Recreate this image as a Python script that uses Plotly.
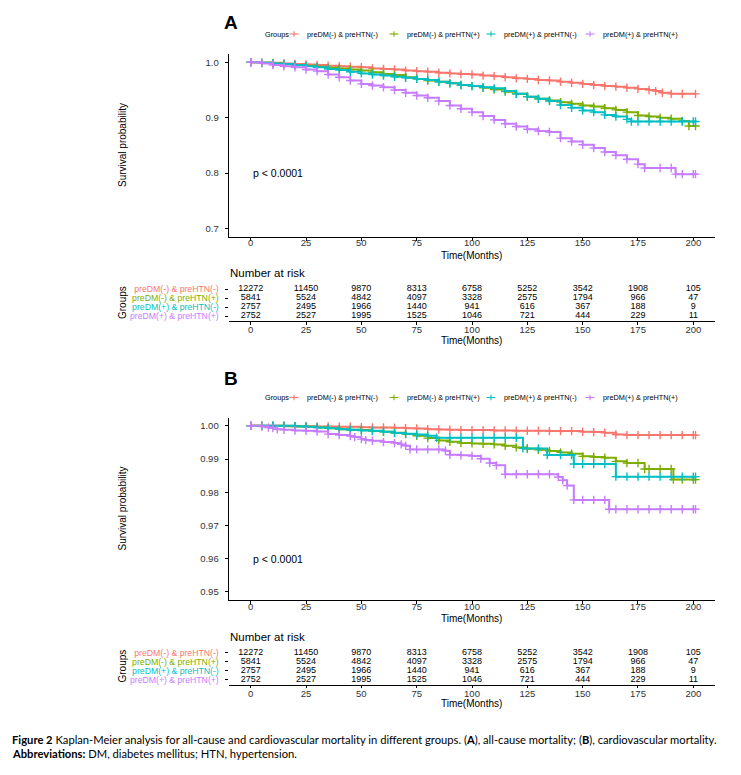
import plotly.graph_objects as go

groups = ["preDM(-) & preHTN(-)", "preDM(-) & preHTN(+)", "preDM(+) & preHTN(-)", "preDM(+) & preHTN(+)"]
colors = ["#F8766D", "#7CAE00", "#00BFC4", "#C77CFF"]

# ---------- Panel A : all-cause mortality ----------
a_t_g1 = [0,5,10,15,20,25,30,35,40,45,50,55,60,65,70,75,80,85,90,95,100,105,110,115,120,125,130,135,140,145,150,155,160,165,170,175,180,183,186,190,195,201]
a_s_g1 = [1.000,0.9995,0.999,0.998,0.997,0.996,0.995,0.994,0.993,0.992,0.991,0.989,0.988,0.987,0.985,0.984,0.983,0.981,0.980,0.979,0.978,0.976,0.975,0.973,0.971,0.970,0.968,0.967,0.965,0.963,0.961,0.959,0.957,0.956,0.954,0.952,0.950,0.948,0.945,0.943,0.943,0.943]

a_t_g2 = [0,5,10,15,20,25,30,35,40,45,50,55,60,65,70,75,80,85,90,95,100,105,110,115,120,125,130,135,140,145,150,155,160,165,170,175,180,185,190,195,198,201]
a_s_g2 = [1.0,0.999,0.998,0.997,0.995,0.994,0.992,0.990,0.989,0.987,0.985,0.982,0.979,0.977,0.973,0.970,0.967,0.965,0.962,0.959,0.957,0.954,0.951,0.947,0.943,0.938,0.934,0.931,0.928,0.925,0.922,0.920,0.917,0.914,0.910,0.904,0.902,0.900,0.898,0.894,0.885,0.885]

a_t_g3 = [0,5,10,15,20,25,30,35,40,45,50,55,60,65,70,75,80,85,90,95,100,105,110,115,120,125,130,135,140,145,150,155,160,165,170,172,175,180,185,190,195,200,201]
a_s_g3 = [1.0,0.999,0.998,0.997,0.995,0.993,0.991,0.988,0.986,0.983,0.980,0.978,0.976,0.974,0.972,0.970,0.968,0.965,0.962,0.959,0.957,0.955,0.953,0.948,0.943,0.938,0.934,0.930,0.923,0.918,0.913,0.910,0.905,0.902,0.897,0.893,0.893,0.893,0.893,0.893,0.893,0.893,0.893]

a_t_g4 = [0,5,10,15,20,25,30,35,40,45,50,55,60,65,70,75,80,85,90,95,100,105,110,115,120,125,130,135,140,145,150,155,160,165,170,175,178,185,190,192,195,200,201]
a_s_g4 = [1.0,0.998,0.995,0.993,0.991,0.987,0.984,0.978,0.973,0.967,0.961,0.958,0.955,0.950,0.945,0.940,0.936,0.930,0.922,0.916,0.910,0.903,0.896,0.889,0.884,0.879,0.876,0.874,0.863,0.857,0.851,0.845,0.838,0.832,0.825,0.816,0.809,0.809,0.809,0.798,0.798,0.798,0.798]

# ---------- Panel B : cardiovascular mortality ----------
b_t_g1 = [0,5,10,15,20,25,30,35,40,45,50,55,60,65,70,75,80,85,90,95,100,105,110,115,120,125,130,135,140,145,150,155,160,165,170,175,180,185,190,195,200,201]
b_s_g1 = [1.0,1.0,1.0,1.0,0.9999,0.9999,0.9998,0.9998,0.9997,0.9997,0.9996,0.9995,0.9995,0.9994,0.9993,0.9992,0.9990,0.9989,0.9988,0.9987,0.9987,0.9987,0.9986,0.9986,0.9985,0.9985,0.9985,0.9984,0.9984,0.9984,0.9982,0.9981,0.9979,0.9974,0.9972,0.9972,0.9972,0.9972,0.9972,0.9972,0.9972,0.9972]

b_t_g2 = [0,5,10,15,20,25,30,35,40,45,50,55,60,65,70,75,80,85,90,95,100,105,110,115,120,125,130,135,140,145,150,155,160,165,170,175,178,180,185,190,191,195,200,201]
b_s_g2 = [1.0,1.0,1.0,0.9999,0.9998,0.9997,0.9995,0.9993,0.9990,0.9988,0.9987,0.9984,0.9982,0.9979,0.9975,0.9970,0.9963,0.9956,0.9952,0.9948,0.9947,0.9946,0.9944,0.9940,0.9935,0.9931,0.9928,0.9924,0.9920,0.9916,0.9908,0.9906,0.9904,0.9893,0.9888,0.9888,0.9870,0.9870,0.9870,0.9870,0.9838,0.9838,0.9838,0.9838]

b_t_g3 = [0,5,10,15,20,25,30,35,40,45,50,55,60,65,70,75,80,84,90,95,100,105,110,115,120,123,125,130,134,140,145,146,150,155,160,165,170,175,180,185,190,195,200,201]
b_s_g3 = [1.0,1.0,1.0,1.0,0.9999,0.9997,0.9995,0.9993,0.9990,0.9988,0.9986,0.9985,0.9982,0.9978,0.9976,0.9974,0.9970,0.9964,0.9964,0.9964,0.9964,0.9964,0.9964,0.9964,0.9964,0.9932,0.9932,0.9932,0.9912,0.9912,0.9912,0.9885,0.9885,0.9885,0.9885,0.9847,0.9847,0.9847,0.9847,0.9847,0.9847,0.9847,0.9847,0.9847]

b_t_g4 = [0,5,8,10,12,15,20,25,30,35,40,45,47,50,52,55,60,65,68,70,72,75,80,85,88,90,95,100,104,108,111,115,120,125,130,135,139,141,143,146,150,155,160,162,165,170,175,180,185,190,195,200,201]
b_s_g4 = [1.0,0.9998,0.9995,0.9993,0.9990,0.9988,0.9986,0.9985,0.9983,0.9975,0.9972,0.9969,0.9966,0.9960,0.9957,0.9955,0.9951,0.9948,0.9944,0.9940,0.9929,0.9929,0.9929,0.9929,0.9925,0.9913,0.9911,0.9909,0.9901,0.9888,0.9881,0.9854,0.9854,0.9854,0.9854,0.9854,0.9846,0.9836,0.9820,0.9777,0.9777,0.9777,0.9777,0.9749,0.9749,0.9749,0.9749,0.9749,0.9749,0.9749,0.9749,0.9749,0.9749]

# ---------- Number at risk ----------
risk_times = [0, 25, 50, 75, 100, 125, 150, 175, 200]
risk_g1 = [12272, 11450, 9870, 8313, 6758, 5252, 3542, 1908, 105]
risk_g2 = [5841, 5524, 4842, 4097, 3328, 2575, 1794, 966, 47]
risk_g3 = [2757, 2495, 1966, 1440, 941, 616, 367, 188, 9]
risk_g4 = [2752, 2527, 1995, 1525, 1046, 721, 444, 229, 11]

a_ticks = [0.7, 0.8, 0.9, 1.0]
b_ticks = [0.95, 0.96, 0.97, 0.98, 0.99, 1.00]

# ---------------------------------------------------------------
PAGE_MARGIN = 8            # default body margin of the html page
W, H = 741 - PAGE_MARGIN, 775 - PAGE_MARGIN

def fx(px):
    return (px - PAGE_MARGIN) / W

def fy(py):
    return 1 - (py - PAGE_MARGIN) / H

XL, XR = 228.5, 715
XRANGE = [-10.03, 209.8]
OFF = 363.5  # vertical offset of panel B

fig = go.Figure()

curvesA = [(a_t_g1, a_s_g1), (a_t_g2, a_s_g2), (a_t_g3, a_s_g3), (a_t_g4, a_s_g4)]
curvesB = [(b_t_g1, b_s_g1), (b_t_g2, b_s_g2), (b_t_g3, b_s_g3), (b_t_g4, b_s_g4)]
risks = [risk_g1, risk_g2, risk_g3, risk_g4]

for curves, xa, ya in [(curvesA, "x", "y"), (curvesB, "x3", "y3")]:
    for i, (t, s) in enumerate(curves):
        fig.add_trace(go.Scatter(
            x=t, y=s, mode="lines+markers", xaxis=xa, yaxis=ya,
            line=dict(shape="hv", width=2, color=colors[i]),
            marker=dict(symbol="cross-thin", size=6, line=dict(width=1.4, color=colors[i])),
            name=groups[i], showlegend=False, hoverinfo="skip"))

for xa, ya in [("x2", "y2"), ("x4", "y4")]:
    for i, r in enumerate(risks):
        fig.add_trace(go.Scatter(
            x=risk_times, y=[3 - i] * len(risk_times), mode="text",
            text=[str(v) for v in r], textfont=dict(size=9, color="black"),
            xaxis=xa, yaxis=ya, showlegend=False, hoverinfo="skip"))

axis_common = dict(showgrid=False, zeroline=False, showline=True, linecolor="black",
                   linewidth=0.8, ticks="outside", ticklen=3, tickcolor="black",
                   tickfont=dict(size=9.5, color="#333333"))

risk_ticktext = ['<span style="color:%s">%s</span>' % (c, g) for c, g in zip(colors, groups)]

def main_axes(top, bottom, yr, yticks, fmt):
    xa = dict(axis_common, domain=[fx(XL), fx(XR)], range=XRANGE, tickvals=risk_times,
              ticklabelstandoff=-6)
    ya = dict(axis_common, domain=[fy(bottom), fy(top)], range=yr, tickvals=yticks,
              tickformat=fmt, ticklabelstandoff=4)
    return xa, ya

def risk_axes(top, bottom):
    xa = dict(axis_common, domain=[fx(XL), fx(XR)], range=XRANGE, tickvals=risk_times,
              ticklabelstandoff=-3)
    ya = dict(axis_common, domain=[fy(bottom), fy(top)], range=[-0.556, 3.556],
              tickvals=[3, 2, 1, 0], ticktext=risk_ticktext, showline=False,
              tickfont=dict(size=8.7), ticklabelstandoff=4)
    return xa, ya

x1, y1 = main_axes(54, 236.7, [0.685, 1.015], a_ticks, ".1f")
x2, y2 = risk_axes(284, 321)
x3, y3 = main_axes(54 + OFF, 236.7 + OFF, [0.9475, 1.0025], b_ticks, ".2f")
x4, y4 = risk_axes(284 + OFF, 321 + OFF)

fig.update_layout(
    xaxis=dict(x1, anchor="y"), yaxis=dict(y1, anchor="x"),
    xaxis2=dict(x2, anchor="y2"), yaxis2=dict(y2, anchor="x2"),
    xaxis3=dict(x3, anchor="y3"), yaxis3=dict(y3, anchor="x3"),
    xaxis4=dict(x4, anchor="y4"), yaxis4=dict(y4, anchor="x4"),
)

ann = []
shapes = []

def text(x, y, s, size, xanchor="center", angle=0, bold=False, color="black", family=None):
    d = dict(x=fx(x), y=fy(y), xref="paper", yref="paper", text=("<b>%s</b>" % s) if bold else s,
             showarrow=False, xanchor=xanchor, yanchor="middle", textangle=angle,
             font=dict(size=size, color=color))
    if family:
        d["font"]["family"] = family
    ann.append(d)

legend_keys = [294, 394, 491, 590]

for k, dy in enumerate([0, OFF]):
    # panel letter
    text(231, 22.5 + dy - (8 if k else 0), "AB"[k], 19, bold=True)
    # legend
    ly = 34 + dy
    text(263, ly, "Groups", 7.3, xanchor="left")
    for i, kx in enumerate(legend_keys):
        shapes.append(dict(type="line", xref="paper", yref="paper", x0=fx(kx - 4.5), x1=fx(kx + 4.5),
                           y0=fy(ly), y1=fy(ly), line=dict(color=colors[i], width=1.1)))
        shapes.append(dict(type="line", xref="paper", yref="paper", x0=fx(kx), x1=fx(kx),
                           y0=fy(ly - 2.8), y1=fy(ly + 2.8), line=dict(color=colors[i], width=1.1)))
        text(kx + 11, ly, groups[i], 7.3, xanchor="left")
    # axis titles
    text(122, 145 + dy, "Survival probability", 10, angle=-90)
    text(471.5, 255 + dy, "Time(Months)", 10)
    text(228, 273 + dy, "Number at risk", 11.5, xanchor="left")
    text(122, 302 + dy, "Groups", 10, angle=-90)
    text(471.5, 340 + dy, "Time(Months)", 10)

# p-values placed in data coordinates
ann.append(dict(x=0, y=0.8, xref="x", yref="y", text="p < 0.0001", showarrow=False,
                xanchor="left", yanchor="middle", font=dict(size=10.5, color="black")))
ann.append(dict(x=0, y=0.96, xref="x3", yref="y3", text="p < 0.0001", showarrow=False,
                xanchor="left", yanchor="middle", font=dict(size=10.5, color="black")))

# caption
cap1 = ("<b>Figure 2</b> Kaplan-Meier analysis for all-cause and cardiovascular mortality in different groups. "
        "(<b>A</b>), all-cause mortality; (<b>B</b>), cardiovascular mortality.")
cap2 = "<b>Abbreviations:</b> DM, diabetes mellitus; HTN, hypertension."
text(10, 739, cap1, 11.2, xanchor="left", family="Lato")
text(10, 753, cap2, 11.2, xanchor="left", family="Lato")

fig.update_layout(
    width=W, height=H, margin=dict(l=0, r=0, t=0, b=0),
    paper_bgcolor="white", plot_bgcolor="white",
    font=dict(family="Liberation Sans", color="black"),
    annotations=ann, shapes=shapes, showlegend=False,
)

fig.write_html("out.html")
